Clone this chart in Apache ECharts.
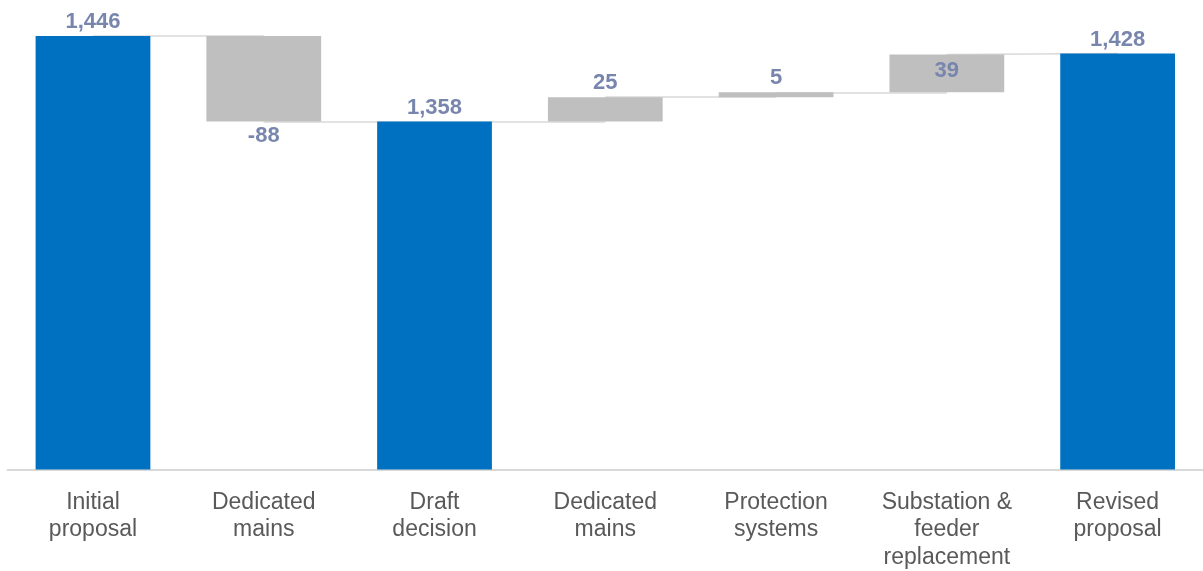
<!DOCTYPE html>
<html><head><meta charset="utf-8">
<script src="https://cdn.jsdelivr.net/npm/echarts@6/dist/echarts.min.js"></script>
<style>html,body{margin:0;padding:0;background:#fff}#c{width:1203px;height:571px}</style>
</head><body><div id="c"></div>
<script>
const categories = ["Initial\nproposal", "Dedicated\nmains", "Draft\ndecision", "Dedicated\nmains", "Protection\nsystems", "Substation &\nfeeder\nreplacement", "Revised\nproposal"];
const values = [1446, -88, 1358, 25, 5, 39, 1428];
const isTotal = [true, false, true, false, false, false, true];
const labelPos = ["top", "bottom", "top", "top", "top", "insideTop", "top"];

// derive floating bar bases/ends from the values
const starts = [], ends = [];
let level = 0;
values.forEach((v, i) => {
  if (isTotal[i]) { starts.push(0); ends.push(v); level = v; }
  else { starts.push(level); level = level + v; ends.push(level); }
});
const helper = values.map((v, i) => isTotal[i] ? 0 : Math.min(starts[i], ends[i]));
const visible = values.map((v, i) => Math.abs(v));
const fmt = v => (v < 0 ? "-" : "") + Math.abs(v).toLocaleString("en-US");

const connectors = [];
for (let i = 0; i < values.length - 1; i++) {
  const from = isTotal[i] ? values[i] : ends[i];
  const to = isTotal[i + 1] ? values[i + 1] : starts[i + 1];
  connectors.push([{ coord: [i, from] }, { coord: [i + 1, to] }]);
}

const chart = echarts.init(document.getElementById('c'));
chart.setOption({
  animation: false,
  grid: { left: 7.6, right: -3.4, top: 36, bottom: 101, containLabel: false },
  xAxis: {
    type: 'category', data: categories,
    axisLine: { lineStyle: { color: '#d9d9d9', width: 2 } },
    axisTick: { show: false },
    axisLabel: { color: '#595959', fontSize: 23, lineHeight: 27.5, margin: 19, fontFamily: 'Liberation Sans, Arial, sans-serif', interval: 0 }
  },
  yAxis: { type: 'value', min: 1000, max: 1446, show: false, splitLine: { show: false } },
  series: [
    {
      type: 'bar', stack: 'w', data: helper, barWidth: '67.2%',
      itemStyle: { color: 'transparent' }, silent: true, z: 1,
      markLine: {
        symbol: 'none', silent: true, z: 0,
        lineStyle: { color: '#d9d9d9', width: 1.5, type: 'solid' },
        label: { show: false },
        data: connectors
      }
    },
    {
      type: 'bar', stack: 'w', barWidth: '67.2%', z: 2,
      data: visible.map((v, i) => ({
        value: v,
        itemStyle: { color: isTotal[i] ? '#0070C0' : '#BFBFBF' },
        label: {
          show: true, position: labelPos[i], distance: labelPos[i] === 'insideTop' ? 5 : 3,
          formatter: () => fmt(values[i]),
          color: '#7886AE', fontSize: 22, fontWeight: 'bold',
          fontFamily: 'Liberation Sans, Arial, sans-serif'
        }
      }))
    }
  ]
});
</script></body></html>
